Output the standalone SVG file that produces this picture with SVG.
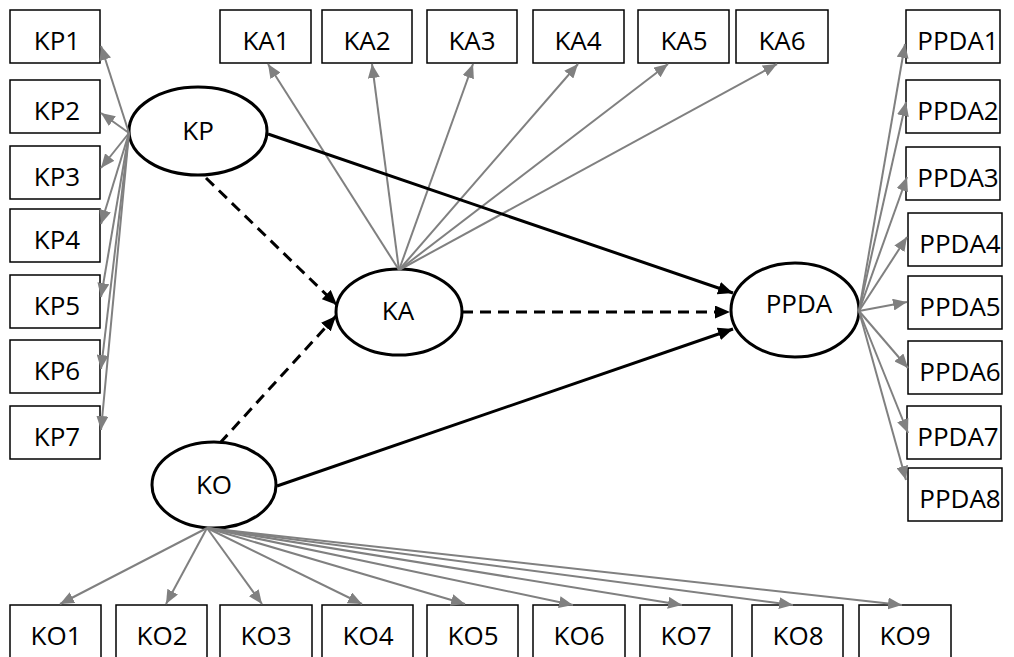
<svg xmlns="http://www.w3.org/2000/svg" width="1014" height="657" viewBox="0 0 1014 657">
<style>
.box{fill:#fff;stroke:#000;stroke-width:1.5}
.ell{fill:#fff;stroke:#000;stroke-width:3}
.t{font-family:"Open Sans","Liberation Sans",sans-serif;font-size:26px;fill:#000;text-anchor:middle}
.g{stroke:#808080;stroke-width:2;fill:none;marker-end:url(#ga)}
.b{stroke:#000;stroke-width:3;fill:none;marker-end:url(#ba)}
.d{stroke:#000;stroke-width:3;fill:none;stroke-dasharray:11,7;marker-end:url(#ba)}
</style>
<defs>
<marker id="ga" markerUnits="userSpaceOnUse" markerWidth="14" markerHeight="12" refX="14" refY="6" orient="auto"><path d="M0,0 L14,6 L0,12 z" fill="#808080"/></marker>
<marker id="ba" markerUnits="userSpaceOnUse" markerWidth="15" markerHeight="13" refX="15" refY="6.5" orient="auto"><path d="M0,0 L15,6.5 L0,13 z" fill="#000"/></marker>
</defs>
<rect width="1014" height="657" fill="#fff"/>
<g id="KP1"><rect class="box" x="10" y="10" width="90" height="53"/><text class="t" x="57" y="50">KP1</text></g>
<g id="KP2"><rect class="box" x="10" y="80" width="90" height="53"/><text class="t" x="57" y="120">KP2</text></g>
<g id="KP3"><rect class="box" x="10" y="146" width="90" height="53"/><text class="t" x="57" y="186">KP3</text></g>
<g id="KP4"><rect class="box" x="10" y="209" width="90" height="53"/><text class="t" x="57" y="249">KP4</text></g>
<g id="KP5"><rect class="box" x="10" y="275" width="90" height="53"/><text class="t" x="57" y="315">KP5</text></g>
<g id="KP6"><rect class="box" x="10" y="340" width="90" height="53"/><text class="t" x="57" y="380">KP6</text></g>
<g id="KP7"><rect class="box" x="10" y="406" width="90" height="53"/><text class="t" x="57" y="446">KP7</text></g>
<g id="KA1"><rect class="box" x="220" y="10" width="91" height="53"/><text class="t" x="266" y="50">KA1</text></g>
<g id="KA2"><rect class="box" x="322" y="10" width="90" height="53"/><text class="t" x="367" y="50">KA2</text></g>
<g id="KA3"><rect class="box" x="427" y="10" width="90" height="53"/><text class="t" x="472" y="50">KA3</text></g>
<g id="KA4"><rect class="box" x="533" y="10" width="91" height="53"/><text class="t" x="578" y="50">KA4</text></g>
<g id="KA5"><rect class="box" x="638" y="10" width="91" height="53"/><text class="t" x="684" y="50">KA5</text></g>
<g id="KA6"><rect class="box" x="736" y="10" width="92" height="53"/><text class="t" x="782" y="50">KA6</text></g>
<g id="PPDA1"><rect class="box" x="906" y="10" width="94" height="53"/><text class="t" x="958" y="50">PPDA1</text></g>
<g id="PPDA2"><rect class="box" x="906" y="80" width="94" height="53"/><text class="t" x="958" y="120">PPDA2</text></g>
<g id="PPDA3"><rect class="box" x="906" y="147" width="94" height="53"/><text class="t" x="958" y="187">PPDA3</text></g>
<g id="PPDA4"><rect class="box" x="908" y="213" width="94" height="53"/><text class="t" x="960" y="253">PPDA4</text></g>
<g id="PPDA5"><rect class="box" x="908" y="276" width="94" height="53"/><text class="t" x="960" y="316">PPDA5</text></g>
<g id="PPDA6"><rect class="box" x="908" y="341" width="94" height="53"/><text class="t" x="960" y="381">PPDA6</text></g>
<g id="PPDA7"><rect class="box" x="907" y="406" width="94" height="53"/><text class="t" x="958" y="446">PPDA7</text></g>
<g id="PPDA8"><rect class="box" x="908" y="468" width="94" height="53"/><text class="t" x="960" y="508">PPDA8</text></g>
<g id="KO1"><rect class="box" x="10" y="605" width="91" height="53"/><text class="t" x="56" y="645">KO1</text></g>
<g id="KO2"><rect class="box" x="116" y="605" width="91" height="53"/><text class="t" x="162" y="645">KO2</text></g>
<g id="KO3"><rect class="box" x="220" y="605" width="92" height="53"/><text class="t" x="266" y="645">KO3</text></g>
<g id="KO4"><rect class="box" x="322" y="605" width="91" height="53"/><text class="t" x="368" y="645">KO4</text></g>
<g id="KO5"><rect class="box" x="427" y="605" width="91" height="53"/><text class="t" x="473" y="645">KO5</text></g>
<g id="KO6"><rect class="box" x="533" y="605" width="92" height="53"/><text class="t" x="579" y="645">KO6</text></g>
<g id="KO7"><rect class="box" x="640" y="605" width="92" height="53"/><text class="t" x="686" y="645">KO7</text></g>
<g id="KO8"><rect class="box" x="752" y="605" width="91" height="53"/><text class="t" x="798" y="645">KO8</text></g>
<g id="KO9"><rect class="box" x="859" y="605" width="92" height="53"/><text class="t" x="905" y="645">KO9</text></g>
<g id="KP"><ellipse class="ell" cx="198" cy="131" rx="69" ry="44"/><text class="t" x="198" y="140">KP</text></g>
<g id="KA"><ellipse class="ell" cx="399" cy="312" rx="63" ry="43"/><text class="t" x="398" y="320">KA</text></g>
<g id="PPDA"><ellipse class="ell" cx="795" cy="310" rx="64" ry="47"/><text class="t" x="799" y="313">PPDA</text></g>
<g id="KO"><ellipse class="ell" cx="214" cy="485" rx="62" ry="43"/><text class="t" x="214" y="494">KO</text></g>
<g id="connectors">
<line class="g" x1="129" y1="133" x2="101" y2="46"/>
<line class="g" x1="129" y1="133" x2="101" y2="113"/>
<line class="g" x1="129" y1="133" x2="101" y2="168"/>
<line class="g" x1="129" y1="133" x2="101" y2="224"/>
<line class="g" x1="129" y1="133" x2="101" y2="297"/>
<line class="g" x1="129" y1="133" x2="101" y2="369"/>
<line class="g" x1="129" y1="133" x2="101" y2="430"/>
<line class="g" x1="399" y1="270" x2="268" y2="64"/>
<line class="g" x1="399" y1="270" x2="372" y2="64"/>
<line class="g" x1="399" y1="270" x2="473" y2="64"/>
<line class="g" x1="399" y1="270" x2="578" y2="64"/>
<line class="g" x1="399" y1="270" x2="668" y2="64"/>
<line class="g" x1="399" y1="270" x2="777" y2="64"/>
<line class="g" x1="859" y1="311" x2="905" y2="44"/>
<line class="g" x1="859" y1="311" x2="906" y2="102"/>
<line class="g" x1="859" y1="311" x2="907" y2="177"/>
<line class="g" x1="859" y1="311" x2="907" y2="237"/>
<line class="g" x1="859" y1="311" x2="907" y2="302"/>
<line class="g" x1="859" y1="311" x2="908" y2="368"/>
<line class="g" x1="859" y1="311" x2="908" y2="433"/>
<line class="g" x1="859" y1="311" x2="906" y2="480"/>
<line class="g" x1="207" y1="528" x2="60" y2="604"/>
<line class="g" x1="207" y1="528" x2="166" y2="604"/>
<line class="g" x1="207" y1="528" x2="262" y2="604"/>
<line class="g" x1="207" y1="528" x2="362" y2="604"/>
<line class="g" x1="207" y1="528" x2="465" y2="604"/>
<line class="g" x1="207" y1="528" x2="573" y2="605"/>
<line class="g" x1="207" y1="528" x2="682" y2="605"/>
<line class="g" x1="207" y1="528" x2="793" y2="605"/>
<line class="g" x1="207" y1="528" x2="902" y2="605"/>
<line class="b" x1="268" y1="134" x2="733" y2="293"/>
<line class="d" x1="462" y1="312" x2="730" y2="312"/>
<line class="b" x1="277" y1="486" x2="733" y2="329"/>
<line class="d" x1="206" y1="178" x2="337" y2="305"/>
<line class="d" x1="220" y1="443" x2="336" y2="316"/>
</g>
</svg>
